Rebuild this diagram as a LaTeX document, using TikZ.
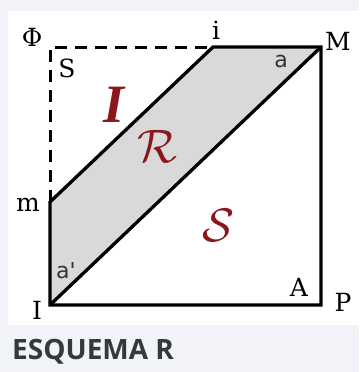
\documentclass[tikz,border=0pt]{standalone}
\usepackage{fix-cm}
\usepackage{fontspec}
\setmainfont{DejaVu Serif}
\newfontfamily\capfont{Open Sans}
\newfontfamily\anglefont{DejaVu Sans}
\newfontfamily\romfont{Liberation Serif}
\usetikzlibrary{positioning}
\definecolor{panelgray}{RGB}{241,243,248}
\definecolor{shadegray}{RGB}{217,217,217}
\definecolor{regionred}{RGB}{139,22,28}
\definecolor{captiongray}{RGB}{52,57,62}

\begin{document}
\begin{tikzpicture}[
  x=1pt, y=-1pt,
  edge/.style={line width=3.3pt, line join=miter},
  hidden/.style={line width=3pt, dash pattern=on 12pt off 8pt},
  lab/.style={inner sep=0pt, font=\fontsize{25}{25}\selectfont},
  ang/.style={inner sep=0pt, text=black!80, font=\anglefont\fontsize{22}{22}\selectfont},
  region/.style={inner sep=0pt, text=regionred, font=\fontsize{47}{47}\selectfont}
]
  \useasboundingbox (0,0) rectangle (359,372);
  \fill[panelgray] (0,0) rectangle (359,372);
  \fill[white] (8,11) rectangle (359,325);

  % corners of the square
  \coordinate (phi) at (50,47);
  \coordinate (i) at (213,47);
  \coordinate (M) at (321,47);
  \coordinate (m) at (50,202);
  \coordinate (I) at (50,305);
  \coordinate (P) at (321,305);

  \fill[shadegray] (m) -- (I) -- (M) -- (i) -- cycle;
  \draw[hidden] (m) -- (phi) -- (i);
  \draw[edge] (m) -- (I) -- (P) -- (M) -- (i) -- cycle;
  \draw[edge] (I) -- (M);

  % point labels
  \node[lab] (lphi) at (32,37) {Φ};
  \node[lab] (li) at (216,30) {i};
  \node[lab] (lM) at (338,41) {M};
  \node[lab] (lm) at (28,205) {m};
  \node[lab] (lI) at (37,310) {I};
  \node[lab] (lA) at (299,287) {A};
  \node[lab] (lP) at (343,302) {P};
  \node[lab] (lS) at (67,68) {S};

  % angles
  \node[ang] (aM) at (281,61) {a};
  \node[ang] (aI) at (66,271) {a'};

  % regions
  \node[region, font=\romfont\bfseries\itshape\fontsize{54}{54}\selectfont] (rI) at (114,105) {I};
  \node[region] (rR) at (157,146) {$\mathcal{R}$};
  \node[region] (rS) at (218,225) {$\mathcal{S}$};

  \node[anchor=base west, inner sep=0pt, text=captiongray,
    font=\capfont\bfseries\fontsize{28}{28}\selectfont] (cap) at (12,359) {ESQUEMA R};
\end{tikzpicture}
\end{document}
